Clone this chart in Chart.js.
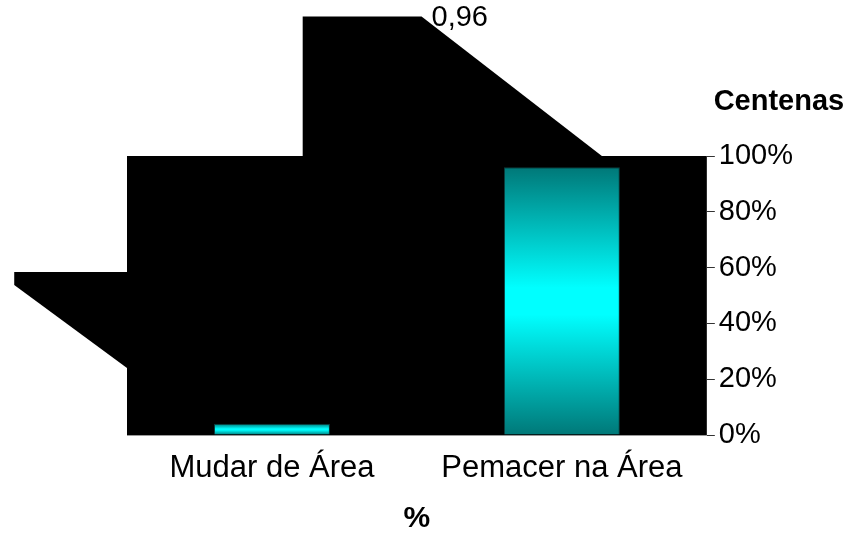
<!DOCTYPE html>
<html>
<head>
<meta charset="utf-8">
<script src="https://cdn.jsdelivr.net/npm/chart.js@4/dist/chart.umd.min.js"></script>
<style>
  html, body { margin: 0; padding: 0; background: #fff; }
  #wrap { width: 855px; height: 535px; }
</style>
</head>
<body>
<div id="wrap"><canvas id="areaChart"></canvas></div>
<script>
// data
var categories = ['Mudar de Área', 'Pemacer na Área'];
var shares = [0.04, 0.96];
var yTicks = [0, 0.2, 0.4, 0.6, 0.8, 1];
var xTitle = '%';
var unitLabel = 'Centenas';

var FONT = "'Liberation Sans', Arial, sans-serif";

// black backdrop behind the plot (x in 0..1 of the plot width, y in axis units)
var backdropShapes = [
    [[0, 0], [1, 0], [1, 1], [0, 1]],
    [[0.303, 1], [0.303, 1.5], [0.508, 1.5], [0.819, 1]],
    [[0, 0.584], [-0.1945, 0.584], [-0.1945, 0.538], [0, 0.24]]
];

var backdrop = {
    id: 'backdrop',
    beforeDatasetsDraw: function (chart) {
        var c = chart.ctx, xs = chart.scales.xs, y = chart.scales.y;
        c.save();
        c.fillStyle = '#000';
        backdropShapes.forEach(function (shape) {
            c.beginPath();
            shape.forEach(function (p, i) {
                var px = xs.getPixelForValue(p[0]), py = y.getPixelForValue(p[1]);
                if (i === 0) c.moveTo(px, py); else c.lineTo(px, py);
            });
            c.closePath();
            c.fill();
        });
        c.restore();
    },
    afterDraw: function (chart) {
        var c = chart.ctx, xs = chart.scales.xs, y = chart.scales.y, area = chart.chartArea;
        c.save();
        c.fillStyle = '#000';
        // value label sitting on the corner of the upper shape
        c.font = '29px ' + FONT;
        c.textAlign = 'left';
        c.textBaseline = 'middle';
        c.fillText(String(shares[1]).replace('.', ','), xs.getPixelForValue(0.508) + 10, y.getPixelForValue(1.5) + 1);
        // unit label above the right axis
        c.font = 'bold 29px ' + FONT;
        c.textAlign = 'center';
        c.fillText(unitLabel, (area.right + chart.width) / 2 - 2, area.top - 54);
        c.restore();
    }
};

function barFill(ctx) {
    var chart = ctx.chart;
    if (!chart.chartArea || ctx.raw === undefined) return '#00ffff';
    var y = chart.scales.y;
    var top = y.getPixelForValue(ctx.raw), base = y.getPixelForValue(0);
    var g = chart.ctx.createLinearGradient(0, top, 0, base);
    g.addColorStop(0, '#007878');
    g.addColorStop(0.45, '#00ffff');
    g.addColorStop(0.55, '#00ffff');
    g.addColorStop(1, '#007878');
    return g;
}

var ctx = document.getElementById('areaChart').getContext('2d');
var areaChart = new Chart(ctx, {
    type: 'bar',
    data: {
        labels: categories,
        datasets: [{
            data: shares,
            backgroundColor: barFill,
            borderColor: '#0b3b3b',
            borderWidth: 1,
            barPercentage: 0.4,
            categoryPercentage: 1
        }]
    },
    options: {
        responsive: true,
        maintainAspectRatio: false,
        animation: false,
        layout: { padding: { top: 156, left: 127, right: 58, bottom: 0 } },
        plugins: {
            legend: { display: false },
            tooltip: { enabled: false }
        },
        scales: {
            x: {
                grid: { display: false, drawTicks: false },
                border: { display: true, color: '#9a9a9a' },
                ticks: { color: '#000', padding: 18, font: { family: FONT, size: 31, lineHeight: 1 } },
                title: {
                    display: true,
                    text: xTitle,
                    color: '#000',
                    padding: { top: 0, bottom: 0 },
                    font: { family: FONT, size: 30, weight: 'bold', lineHeight: 1.1 }
                }
            },
            xs: {
                type: 'linear',
                display: false,
                offset: false,
                min: 0,
                max: 1
            },
            y: {
                position: 'right',
                min: 0,
                max: 1,
                afterBuildTicks: function (axis) {
                    axis.ticks = yTicks.map(function (v) { return { value: v }; });
                },
                grid: { drawOnChartArea: false, tickLength: 8, color: '#333' },
                border: { display: false },
                ticks: {
                    color: '#000',
                    padding: 4,
                    font: { family: FONT, size: 29 },
                    callback: function (v) { return Math.round(v * 100) + '%'; }
                }
            }
        }
    },
    plugins: [backdrop]
});
</script>
</body>
</html>
